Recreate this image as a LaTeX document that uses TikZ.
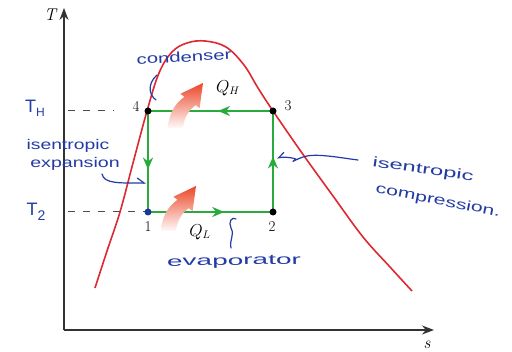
\documentclass[tikz,border=0pt]{standalone}
\usepackage{fontspec}
\newfontfamily\handfont{Liberation Sans}
\usetikzlibrary{arrows.meta,decorations.markings}
\definecolor{cyc}{RGB}{40,170,60}
\definecolor{dome}{RGB}{222,40,50}
\definecolor{ink}{RGB}{35,60,165}
\definecolor{heat}{RGB}{235,70,40}
\tikzset{
  axisline/.style={line width=1.3pt, black!80, -{Stealth[length=12pt,width=9pt]}},
  cycleedge/.style={cyc, line width=2.8pt},
  midarrow/.style={postaction={decorate,decoration={markings,
      mark=at position #1 with {\arrow[cyc]{Stealth[length=12pt,width=10pt]}}}}},
  statedot/.style={circle, fill=black, inner sep=0pt, minimum size=7pt},
  numlabel/.style={font=\fontsize{15}{15}\selectfont, inner sep=0pt},
  guideline/.style={black!70, line width=1pt, dash pattern=on 7pt off 8pt},
  hand/.style={ink, font=\handfont\fontsize{14}{15}\selectfont, inner sep=0pt},
  handstroke/.style={ink, line width=1.2pt, line cap=round, line join=round},
  heatarrow/.style={top color=heat, bottom color=heat!3, draw=none},
}
\begin{document}
\begin{tikzpicture}[x=1pt,y=-1pt]
\useasboundingbox (0,0) rectangle (512,352);
\fill[white] (0,0) rectangle (512,352);

% axes
\coordinate (origin) at (64,330);
\coordinate (ttip) at (64,8);
\coordinate (stip) at (434,330);
\draw[axisline] (origin) -- (ttip);
\draw[axisline] (origin) -- (stip);
\node[font=\fontsize{17}{17}\selectfont\itshape, inner sep=0pt] (tlab) at (50,15) {T};
\node[font=\fontsize{17}{17}\selectfont\itshape, inner sep=0pt] (slab) at (427,345) {s};

% saturation dome
\draw[dome, line width=1.6pt] plot[smooth, tension=0.6] coordinates {
  (95,288) (107,251) (120,212) (133,163) (147,111) (159,73) (172,52) (187,43)
  (205,41) (226,47) (244,65) (258,88) (273,111) (302,153) (333,196) (363,237) (390,267) (412,291)};

% cycle states
\coordinate (p1) at (148,212);
\coordinate (p2) at (273,212);
\coordinate (p3) at (273,111);
\coordinate (p4) at (148,111);

% guide lines
\coordinate (gh) at (68,111);
\coordinate (ghend) at (114,111);
\coordinate (gl) at (68,212);
\draw[guideline] (gh) -- (ghend);
\draw[guideline] (gl) -- (p1);

% cycle edges
\draw[cycleedge, midarrow=0.44] (p3) -- (p4);
\draw[cycleedge, midarrow=0.58] (p4) -- (p1);
\draw[cycleedge, midarrow=0.61] (p1) -- (p2);
\draw[cycleedge, midarrow=0.55] (p2) -- (p3);

\node[statedot, fill=ink!90!black] (d1) at (p1) {};
\node[statedot] (d2) at (p2) {};
\node[statedot] (d3) at (p3) {};
\node[statedot] (d4) at (p4) {};

\node[numlabel] (n4) at (136,106) {4};
\node[numlabel] (n3) at (288,106) {3};
\node[numlabel] (n1) at (148,227) {1};
\node[numlabel] (n2) at (272,227) {2};

% heat arrows
\shade[heatarrow] (168,128) .. controls (169,112) and (176,103) .. (184.4,96.8) -- (180.4,93.8)
  -- (203,83) -- (199.6,108.2) -- (195.6,105.2) .. controls (188,111) and (184,118) .. (183,128) -- cycle;
\begin{scope}[shift={(-7,103)}]
\shade[heatarrow] (168,128) .. controls (169,112) and (176,103) .. (184.4,96.8) -- (180.4,93.8)
  -- (203,83) -- (199.6,108.2) -- (195.6,105.2) .. controls (188,111) and (184,118) .. (183,128) -- cycle;
\end{scope}
\node[font=\fontsize{16}{16}\selectfont, inner sep=0pt] (qh) at (228,88) {$Q_H$};
\node[font=\fontsize{16}{16}\selectfont, inner sep=0pt] (ql) at (200,232) {$Q_L$};

% handwritten annotations
\node[hand, font=\handfont\fontsize{18}{18}\selectfont] (th) at (35,108) {T\raisebox{-4pt}{\fontsize{12}{12}\selectfont H}};
\node[hand, font=\handfont\fontsize{18}{18}\selectfont] (t2) at (36,212) {T\raisebox{-5pt}{\fontsize{14}{14}\selectfont 2}};
\node[hand, rotate=3] (cond) at (184,57) {\scalebox{1.45}[1]{condenser}};
\node[hand] (ise1) at (68,146) {\scalebox{1.38}[1]{isentropic}};
\node[hand] (exp) at (75,164) {\scalebox{1.4}[1]{expansion}};
\node[hand, rotate=-8] (ise2) at (423,170) {\scalebox{1.7}[1]{isentropic}};
\node[hand, rotate=-11] (comp) at (438,201) {\scalebox{1.52}[1]{compression.}};
\node[hand, rotate=1] (evap) at (234,262) {\scalebox{2.0}[1]{evaporator}};

\coordinate (parA) at (157,75);
\coordinate (parB) at (156,100);
\draw[handstroke] (parA) .. controls (147,84) and (149,95) .. (parB);

\coordinate (expA) at (102,174);
\coordinate (expB) at (146,183);
\draw[handstroke, -{Straight Barb[left, length=7pt, width=10pt]}] (expA) .. controls (104,184) and (120,183) .. (expB);

\coordinate (compA) at (358,160);
\coordinate (compB) at (277,158);
\draw[handstroke, -{Straight Barb[right, length=6pt, width=9pt]}] (compA) .. controls (335,157) and (315,153) .. (303,157)
  .. controls (292,161) and (290,164) .. (296,159) .. controls (290,157) and (283,157) .. (compB);

\coordinate (evA) at (236,219);
\coordinate (evB) at (231,248);
\draw[handstroke] (evA) .. controls (232,216) and (228,222) .. (231,228)
  .. controls (235,235) and (229,240) .. (evB);
\end{tikzpicture}
\end{document}
